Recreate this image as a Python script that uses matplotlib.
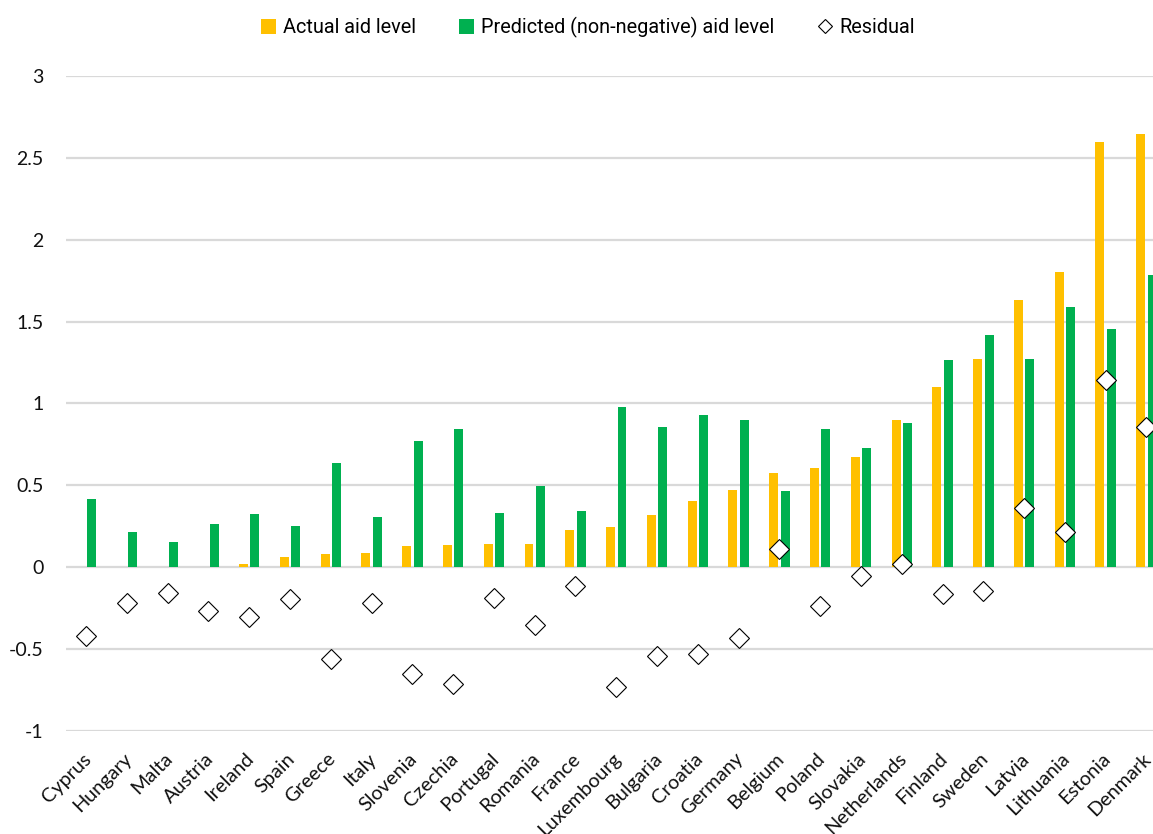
import matplotlib
matplotlib.use("Agg")
import matplotlib.pyplot as plt
from matplotlib.lines import Line2D
from matplotlib.patches import Patch
import numpy as np

countries = ["Cyprus", "Hungary", "Malta", "Austria", "Ireland", "Spain", "Greece",
             "Italy", "Slovenia", "Czechia", "Portugal", "Romania", "France",
             "Luxembourg", "Bulgaria", "Croatia", "Germany", "Belgium", "Poland",
             "Slovakia", "Netherlands", "Finland", "Sweden", "Latvia", "Lithuania",
             "Estonia", "Denmark"]

actual = [0.0, 0.0, 0.0, 0.0, 0.022, 0.061, 0.078, 0.090, 0.127, 0.135, 0.143,
          0.143, 0.229, 0.243, 0.320, 0.404, 0.471, 0.573, 0.608, 0.676, 0.898,
          1.102, 1.271, 1.629, 1.806, 2.594, 2.643]

predicted = [0.418, 0.214, 0.155, 0.263, 0.324, 0.253, 0.635, 0.306, 0.773, 0.845,
             0.329, 0.498, 0.341, 0.976, 0.859, 0.929, 0.902, 0.463, 0.843, 0.727,
             0.878, 1.265, 1.416, 1.271, 1.590, 1.453, 1.786]

residual = [-0.422, -0.218, -0.159, -0.265, -0.304, -0.192, -0.561, -0.216, -0.651,
            -0.712, -0.188, -0.355, -0.112, -0.733, -0.541, -0.527, -0.431, 0.110,
            -0.235, -0.053, 0.020, -0.163, -0.145, 0.359, 0.214, 1.145, 0.857]

yticks = [-1, -0.5, 0, 0.5, 1, 1.5, 2, 2.5, 3]
ytick_labels = ["-1", "-0.5", "0", "0.5", "1", "1.5", "2", "2.5", "3"]

ORANGE = "#FFC000"
GREEN = "#00B050"
GRID = "#D9D9D9"

body_font = ["Lato", "DejaVu Sans"]
legend_font = ["Roboto", "DejaVu Sans"]

fig = plt.figure(figsize=(11.53, 8.34), dpi=100)
ax = fig.add_axes([0.057, 0.1235, 0.955, 0.7854])

x = np.arange(len(countries))
w = 0.22
off = 0.14
ax.bar(x - off, actual, width=w, color=ORANGE, zorder=2)
ax.bar(x + off, predicted, width=w, color=GREEN, zorder=2)
ax.plot(x, residual, linestyle="none", marker="D", markersize=10.5,
        markerfacecolor="white", markeredgecolor="black", markeredgewidth=0.8,
        zorder=3)

ax.set_xlim(-0.5, len(countries) - 0.5)
ax.set_ylim(-1, 3)
ax.set_yticks(yticks)
ax.set_yticklabels(ytick_labels, fontsize=14, family=body_font, color="#111111")
ax.tick_params(axis="y", length=0, pad=16)

# category labels, rotated and anchored at their upper-right end
ax.set_xticks(x)
ax.tick_params(axis="x", length=0, labelbottom=False)
for xi, name in zip(x, countries):
    ax.text(xi - 0.1, -0.029, name, transform=ax.get_xaxis_transform(),
            rotation=45, ha="right", va="top", rotation_mode="anchor",
            fontsize=14.3, family=body_font, color="#111111", clip_on=False)

ax.yaxis.grid(True, color=GRID, linewidth=1.6, zorder=0)
ax.set_axisbelow(True)
for s in ax.spines.values():
    s.set_visible(False)

handles = [
    Patch(facecolor=ORANGE, edgecolor="none", label="Actual aid level"),
    Patch(facecolor=GREEN, edgecolor="none", label="Predicted (non-negative) aid level"),
    Line2D([], [], linestyle="none", marker="D", markersize=7, markerfacecolor="white",
           markeredgecolor="black", markeredgewidth=0.8, label="Residual"),
]
fig.legend(handles=handles, loc="center", bbox_to_anchor=(0.51, 0.967), ncol=3,
           frameon=False, prop={"family": legend_font, "size": 14.3},
           handlelength=0.75, handleheight=0.75, handletextpad=0.35, columnspacing=2.2)

fig.savefig("out.png", dpi=100)
